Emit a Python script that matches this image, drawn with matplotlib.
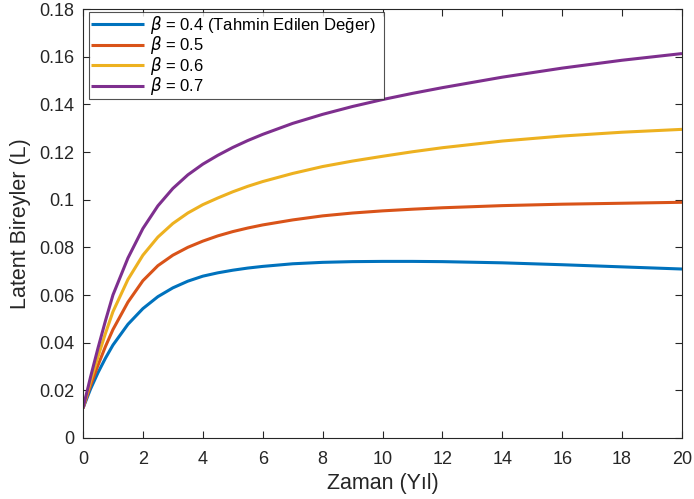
import matplotlib
matplotlib.use("Agg")
import matplotlib.pyplot as plt

plt.rcParams['font.family'] = ['Liberation Sans', 'DejaVu Sans']
plt.rcParams['mathtext.fontset'] = 'dejavusans'

# Time (years)
t = [0, 0.25, 0.5, 0.75, 1, 1.5, 2, 2.5, 3, 3.5, 4, 4.5, 5, 5.5, 6, 7, 8, 9, 10, 11, 12, 14, 16, 18, 20]

# Latent individuals for each transmission rate
L_beta_04 = [0.0125, 0.0205, 0.0274, 0.0335, 0.0390, 0.0477, 0.0543, 0.0593, 0.0630, 0.0658, 0.0679,
             0.0693, 0.0704, 0.0713, 0.0720, 0.0731, 0.0737, 0.0740, 0.0741, 0.0741, 0.0740, 0.0735,
             0.0727, 0.0718, 0.0709]
L_beta_05 = [0.0125, 0.0220, 0.0305, 0.0384, 0.0455, 0.0570, 0.0660, 0.0723, 0.0767, 0.0800, 0.0826,
             0.0848, 0.0866, 0.0881, 0.0894, 0.0915, 0.0932, 0.0944, 0.0953, 0.0960, 0.0966, 0.0975,
             0.0981, 0.0985, 0.0989]
L_beta_06 = [0.0125, 0.0237, 0.0341, 0.0439, 0.0530, 0.0665, 0.0767, 0.0843, 0.0900, 0.0944, 0.0979,
             0.1007, 0.1033, 0.1056, 0.1076, 0.1110, 0.1139, 0.1162, 0.1182, 0.1201, 0.1218, 0.1246,
             0.1267, 0.1283, 0.1295]
L_beta_07 = [0.0125, 0.0255, 0.0377, 0.0492, 0.0600, 0.0755, 0.0879, 0.0974, 0.1047, 0.1104, 0.1149,
             0.1186, 0.1219, 0.1248, 0.1274, 0.1320, 0.1358, 0.1391, 0.1420, 0.1446, 0.1470, 0.1514,
             0.1552, 0.1585, 0.1613]

labels = [r'$\beta$ = 0.4 (Tahmin Edilen Değer)', r'$\beta$ = 0.5', r'$\beta$ = 0.6', r'$\beta$ = 0.7']
colors = ['#0072BD', '#D95319', '#EDB120', '#7E2F8E']

x_ticks = [0, 2, 4, 6, 8, 10, 12, 14, 16, 18, 20]
y_ticks = [0, 0.02, 0.04, 0.06, 0.08, 0.1, 0.12, 0.14, 0.16, 0.18]
y_ticklabels = ['0', '0.02', '0.04', '0.06', '0.08', '0.1', '0.12', '0.14', '0.16', '0.18']

fig = plt.figure(figsize=(6.94, 4.99), dpi=100)
ax = fig.add_axes([83 / 694, 1 - 438 / 499, 599 / 694, 429 / 499])

for series, lab, col in zip([L_beta_04, L_beta_05, L_beta_06, L_beta_07], labels, colors):
    ax.plot(t, series, color=col, lw=2.2, label=lab, solid_capstyle='butt')

ax.set_xlim(0, 20)
ax.set_ylim(0, 0.18)
ax.set_xticks(x_ticks)
ax.set_yticks(y_ticks)
ax.set_yticklabels(y_ticklabels)

edge = '#262626'
for s in ax.spines.values():
    s.set_color(edge)
    s.set_linewidth(0.8)
ax.tick_params(direction='in', length=5, width=0.8, colors=edge, labelsize=13,
               top=True, right=True, pad=6)
ax.tick_params(axis='x', pad=9)

ax.set_xlabel('Zaman (Yıl)', fontsize=15.5, color=edge, labelpad=4)
ax.set_ylabel('Latent Bireyler (L)', fontsize=15.5, color=edge, labelpad=6)

# Legend box stretched to a fixed width in axes coordinates
leg = ax.legend(loc='upper left', bbox_to_anchor=(0.010, 0.0, 0.4925, 0.993), mode='expand',
                borderaxespad=0, fontsize=12, frameon=True, fancybox=False, handlelength=3.2,
                handletextpad=0.36, borderpad=0.11, labelspacing=-0.09)
leg.get_frame().set_edgecolor(edge)
leg.get_frame().set_linewidth(0.8)

fig.savefig('out.png', dpi=100)
